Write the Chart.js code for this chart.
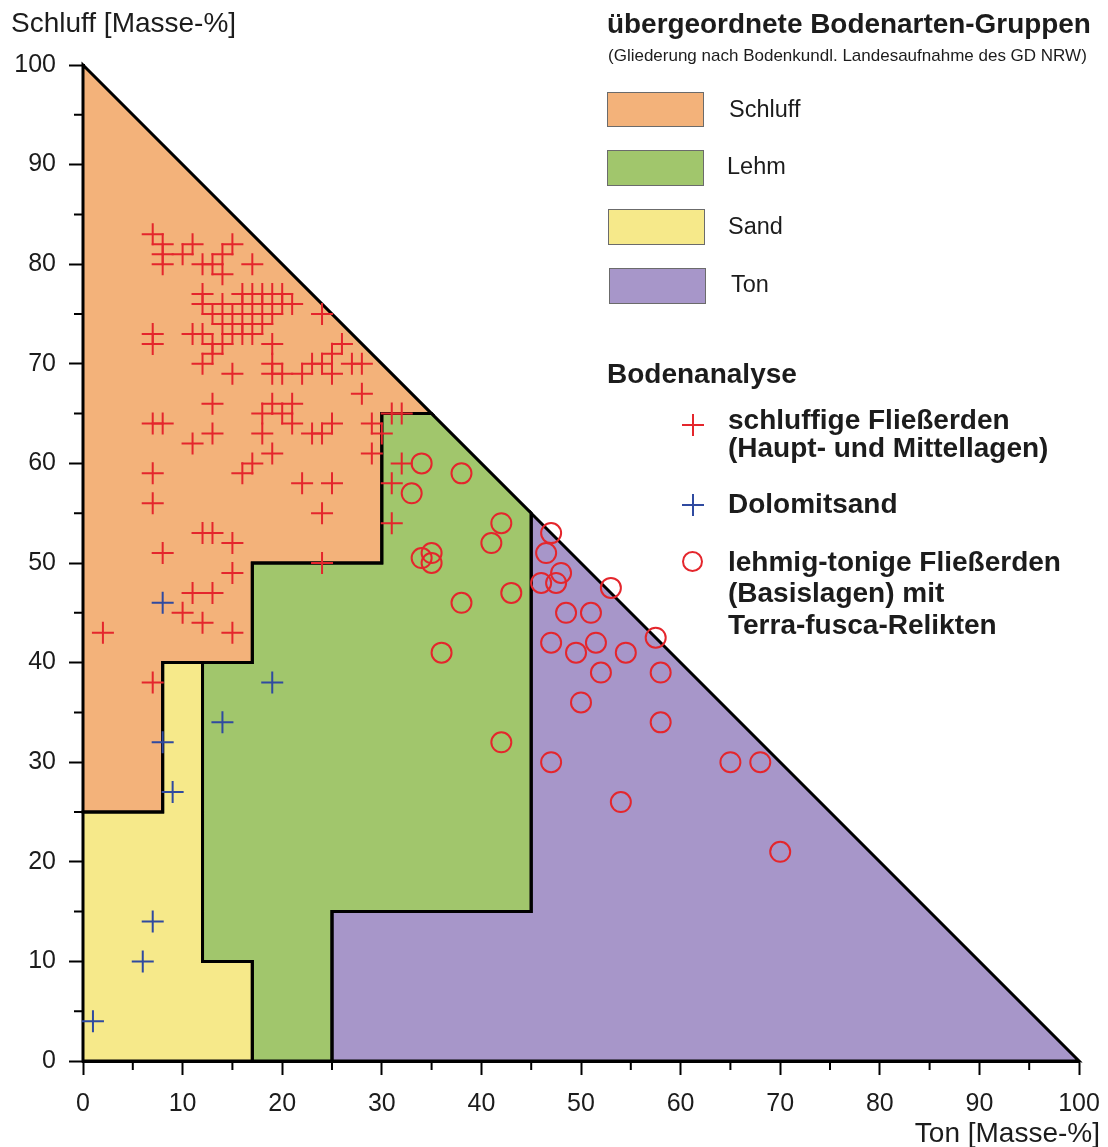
<!DOCTYPE html>
<html>
<head>
<meta charset="utf-8">
<script src="https://cdn.jsdelivr.net/npm/chart.js@4.4.1/dist/chart.umd.min.js"></script>
<style>
    body { margin: 0; background: #fff; font-family: "Liberation Sans", Arial, sans-serif; color: #1c1c1c; }
    #wrap { position: relative; width: 1108px; height: 1147px; }
    #wrap canvas { position: absolute; left: 0; top: 0; }
    .t { position: absolute; white-space: nowrap; line-height: 1; transform-origin: 0 0; }
    .b { font-weight: bold; }
    .box { position: absolute; box-sizing: border-box; border: 1px solid #6b6b6b; }
    .cross { position: absolute; width: 22px; height: 22px; }
    .cross:before, .cross:after { content: ""; position: absolute; background: currentColor; }
    .cross:before { left: 0; top: 10px; width: 22px; height: 2px; }
    .cross:after { left: 10px; top: 0; width: 2px; height: 22px; }
    .ring { position: absolute; width: 21px; height: 21px; box-sizing: border-box; border: 2px solid #e4262c; border-radius: 50%; }
</style>
</head>
<body>
<div id="wrap">
    <canvas id="chart"></canvas>

    <div class="t" style="left:11px; top:9px; font-size:28px;">Schluff [Masse-%]</div>
    <div class="t" style="right:8px; top:1119px; font-size:28px;">Ton [Masse-%]</div>

    <div class="t b" data-w="484" style="left:607px; top:10px; font-size:28px;">übergeordnete Bodenarten-Gruppen</div>
    <div class="t" data-w="479" style="left:608px; top:47px; font-size:17px;">(Gliederung nach Bodenkundl. Landesaufnahme des GD NRW)</div>

    <div class="box" style="left:607px; top:92px; width:97px; height:35px; background:#f3b27a;"></div>
    <div class="t" style="left:729px; top:98px; font-size:23.5px;">Schluff</div>
    <div class="box" style="left:607px; top:150px; width:97px; height:36px; background:#a1c66c;"></div>
    <div class="t" style="left:727px; top:155px; font-size:23.5px;">Lehm</div>
    <div class="box" style="left:608px; top:209px; width:97px; height:36px; background:#f6e98a;"></div>
    <div class="t" style="left:728px; top:215px; font-size:23.5px;">Sand</div>
    <div class="box" style="left:609px; top:268px; width:97px; height:36px; background:#a796c9;"></div>
    <div class="t" style="left:731px; top:273px; font-size:23.5px;">Ton</div>

    <div class="t b" style="left:607px; top:360px; font-size:28px;">Bodenanalyse</div>
    <div class="cross" style="left:682px; top:414px; color:#e4262c;"></div>
    <div class="t b" style="left:728px; top:406px; font-size:28px;">schluffige Fließerden</div>
    <div class="t b" style="left:728px; top:434px; font-size:28px;">(Haupt- und Mittellagen)</div>
    <div class="cross" style="left:682px; top:494px; color:#2f4aa0;"></div>
    <div class="t b" style="left:728px; top:490px; font-size:28px;">Dolomitsand</div>
    <div class="ring" style="left:682px; top:551px;"></div>
    <div class="t b" style="left:728px; top:548px; font-size:28px;">lehmig-tonige Fließerden</div>
    <div class="t b" style="left:728px; top:579px; font-size:28px;">(Basislagen) mit</div>
    <div class="t b" style="left:728px; top:611px; font-size:28px;">Terra-fusca-Relikten</div>
</div>

<script>
// Achsen-Ticks
const majorTicks = [0, 10, 20, 30, 40, 50, 60, 70, 80, 90, 100];
const minorTicks = [5, 15, 25, 35, 45, 55, 65, 75, 85, 95];

// Bodenarten-Gruppen als Polygone [Ton, Schluff]
const schluffArea = [[0, 100], [35, 65], [30, 65], [30, 50], [17, 50], [17, 40], [8, 40], [8, 25], [0, 25]];
const lehmArea = [[35, 65], [45, 55], [45, 15], [25, 15], [25, 0], [17, 0], [17, 10], [12, 10], [12, 40], [17, 40], [17, 50], [30, 50], [30, 65]];
const sandArea = [[0, 25], [8, 25], [8, 40], [12, 40], [12, 10], [17, 10], [17, 0], [0, 0]];
const tonArea = [[45, 55], [100, 0], [25, 0], [25, 15], [45, 15]];

// schluffige Fliesserden (rote Kreuze)
const redTon = [7, 8, 8, 8, 10, 11, 12, 13, 14, 14, 15, 17,
    12, 12, 13, 14, 14, 15, 15, 16, 16, 16, 16, 17, 17, 17, 18, 18, 18, 19, 19, 20, 20, 21,
    24, 7, 7, 11, 12, 13, 14, 13, 12, 15,
    19, 19, 19, 20, 22, 23, 24, 25, 26, 27, 28, 25, 28,
    13, 19, 21, 18, 20, 21, 31, 32,
    7, 8, 13, 11, 18, 19, 23, 24, 25, 29, 30, 29, 32, 31,
    17, 16, 7, 22, 25, 7, 24, 31,
    12, 13, 15, 8, 24, 15, 11, 13, 10, 12, 15, 2, 7];
const redSchluff = [83, 82, 81, 80, 81, 82, 80, 80, 79, 81, 82, 80,
    77, 76, 75, 76, 74, 75, 73, 77, 76, 74, 73, 77, 75, 73, 77, 76, 74, 77, 75, 77, 76, 76,
    75, 73, 72, 73, 73, 72, 72, 71, 70, 69,
    72, 70, 69, 69, 69, 70, 70, 71, 72, 70, 70, 69, 67,
    66, 66, 66, 65, 65, 64, 65, 65,
    64, 64, 63, 62, 63, 61, 63, 63, 64, 64, 63, 61, 60, 58,
    60, 59, 59, 58, 58, 56, 55, 54,
    53, 53, 52, 51, 50, 49, 47, 47, 45, 44, 43, 43, 38];

// Dolomitsand (blaue Kreuze)
const blueTon = [8, 19, 14, 8, 9, 7, 6, 1];
const blueSchluff = [46, 38, 34, 32, 27, 14, 10, 4];

// lehmig-tonige Fliesserden (Kreise)
const circleTon = [34, 38, 33, 42, 41, 34, 35, 35, 43, 38, 36,
    47, 46.5, 48, 46, 47.5, 53, 48.5, 51, 57.5, 47, 49.5, 51.5, 54.5,
    52, 58, 50, 58, 42, 47, 65, 68, 54, 70];
const circleSchluff = [60, 59, 57, 54, 52, 50.5, 51, 50, 47, 46, 41,
    53, 51, 49, 48, 48, 47.5, 45, 45, 42.5, 42, 41, 42, 41,
    39, 39, 36, 34, 32, 30, 30, 30, 26, 21];

const RED = '#e4262c';
const BLUE = '#2f4aa0';
const FONT = '"Liberation Sans", Arial, sans-serif';

const areas = [
    { pts: schluffArea, color: '#f3b27a' },
    { pts: lehmArea, color: '#a1c66c' },
    { pts: sandArea, color: '#f6e98a' },
    { pts: tonArea, color: '#a796c9' }
];

function toPoints(xs, ys) {
    return xs.map((v, i) => ({ x: v, y: ys[i] }));
}

function tracePoly(ctx, x, y, pts) {
    ctx.beginPath();
    pts.forEach(([t, s], i) => {
        const px = x.getPixelForValue(t);
        const py = y.getPixelForValue(s);
        if (i === 0) ctx.moveTo(px, py); else ctx.lineTo(px, py);
    });
    ctx.closePath();
}

// Flaechen + Grenzen + kurze Zwischen-Ticks
const areaPlugin = {
    id: 'areas',
    beforeDatasetsDraw(chart) {
        const { ctx, scales: { x, y } } = chart;
        ctx.save();
        areas.forEach(a => {
            tracePoly(ctx, x, y, a.pts);
            ctx.fillStyle = a.color;
            ctx.fill();
        });
        ctx.strokeStyle = '#000';
        ctx.lineWidth = 3;
        ctx.lineJoin = 'miter';
        areas.forEach(a => {
            tracePoly(ctx, x, y, a.pts);
            ctx.stroke();
        });
        ctx.restore();
    },
    afterDraw(chart) {
        const { ctx, scales: { x, y } } = chart;
        ctx.save();
        ctx.strokeStyle = '#000';
        ctx.lineWidth = 2;
        ctx.beginPath();
        minorTicks.forEach(v => {
            const px = x.getPixelForValue(v);
            ctx.moveTo(px, y.bottom);
            ctx.lineTo(px, y.bottom + 9);
            const py = y.getPixelForValue(v);
            ctx.moveTo(x.left, py);
            ctx.lineTo(x.left - 9, py);
        });
        ctx.stroke();
        ctx.restore();
    }
};

const axisBase = {
    type: 'linear',
    min: 0,
    max: 100,
    afterBuildTicks: (scale) => { scale.ticks = majorTicks.map(v => ({ value: v })); },
    grid: { drawOnChartArea: false, tickLength: 14, tickWidth: 2, tickColor: '#000' },
    border: { color: '#000', width: 3 }
};

new Chart(document.getElementById('chart'), {
    type: 'scatter',
    data: {
        datasets: [
            {
                label: 'lehmig-tonige Fließerden',
                data: toPoints(circleTon, circleSchluff),
                pointStyle: 'circle',
                pointRadius: 10,
                borderColor: RED,
                backgroundColor: 'rgba(0,0,0,0)',
                borderWidth: 2,
                clip: false
            },
            {
                label: 'schluffige Fließerden',
                data: toPoints(redTon, redSchluff),
                pointStyle: 'cross',
                pointRadius: 11,
                borderColor: RED,
                borderWidth: 2,
                clip: false
            },
            {
                label: 'Dolomitsand',
                data: toPoints(blueTon, blueSchluff),
                pointStyle: 'cross',
                pointRadius: 11,
                borderColor: BLUE,
                borderWidth: 2,
                clip: false
            }
        ]
    },
    options: {
        responsive: true,
        maintainAspectRatio: false,
        animation: false,
        layout: { padding: { left: 0, right: 29, top: 65, bottom: 0 } },
        plugins: { legend: { display: false }, tooltip: { enabled: false } },
        scales: {
            x: {
                ...axisBase,
                ticks: { font: { size: 25, family: FONT }, color: '#1c1c1c', padding: 14, maxRotation: 0, autoSkip: false },
                afterFit: (s) => { s.height = 86; s.paddingLeft = 0; s.paddingRight = 0; }
            },
            y: {
                ...axisBase,
                ticks: { font: { size: 25, family: FONT }, color: '#1c1c1c', padding: 13, autoSkip: false },
                afterFit: (s) => { s.width = 83; s.paddingTop = 0; s.paddingBottom = 0; }
            }
        }
    },
    plugins: [areaPlugin]
});

// Breite einzelner Texte an die Vorlage anpassen
document.querySelectorAll('[data-w]').forEach(el => {
    const w = el.getBoundingClientRect().width;
    el.style.transform = `scaleX(${(+el.dataset.w / w).toFixed(3)})`;
});
</script>
</body>
</html>
